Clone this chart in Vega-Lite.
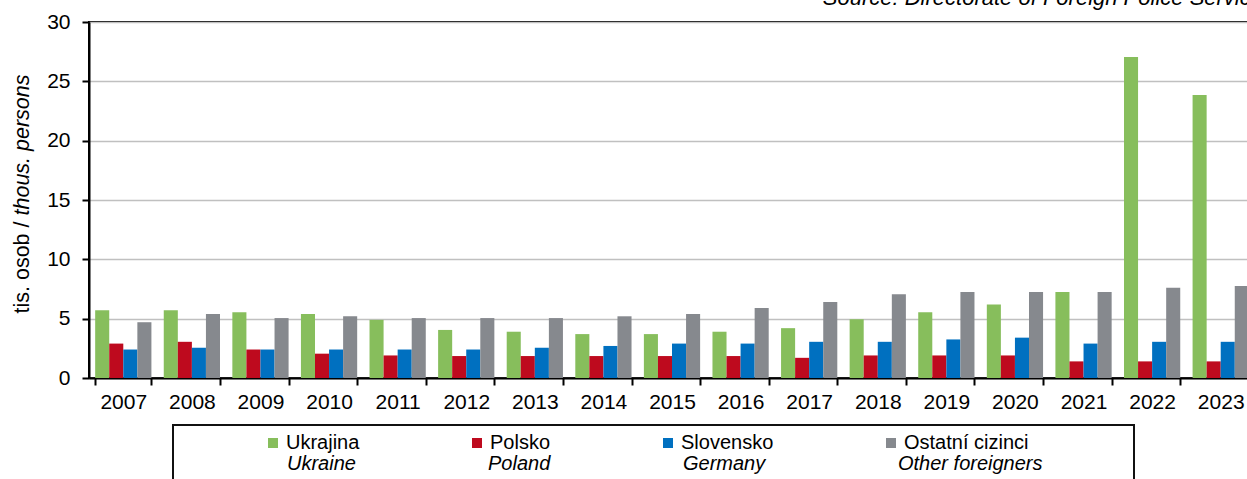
{
  "$schema": "https://vega.github.io/schema/vega-lite/v6.json",
  "autosize": {"type": "none"},
  "width": 1166,
  "height": 356,
  "padding": {"left": 89, "top": 22, "right": -8, "bottom": 101},
  "background": "white",
  "config": {
    "font": "Liberation Sans",
    "view": {"stroke": "black", "strokeWidth": 2},
    "axis": {"titleFontWeight": "normal", "labelColor": "black", "titleColor": "black"},
    "legend": {"strokeWidth": 2}
  },
  "title": {
    "text": "Source: Directorate of Foreign Police Service",
    "anchor": "end",
    "frame": "group",
    "fontStyle": "italic",
    "fontWeight": "normal",
    "fontSize": 22,
    "baseline": "alphabetic",
    "offset": -16,
    "dx": 8,
    "color": "black"
  },
  "data": {
    "values": [
      {"year": "2007", "cz": "Ukrajina", "en": "Ukraine", "v": 5.7},
      {"year": "2008", "cz": "Ukrajina", "en": "Ukraine", "v": 5.7},
      {"year": "2009", "cz": "Ukrajina", "en": "Ukraine", "v": 5.55},
      {"year": "2010", "cz": "Ukrajina", "en": "Ukraine", "v": 5.4},
      {"year": "2011", "cz": "Ukrajina", "en": "Ukraine", "v": 4.9},
      {"year": "2012", "cz": "Ukrajina", "en": "Ukraine", "v": 4.05},
      {"year": "2013", "cz": "Ukrajina", "en": "Ukraine", "v": 3.9},
      {"year": "2014", "cz": "Ukrajina", "en": "Ukraine", "v": 3.7},
      {"year": "2015", "cz": "Ukrajina", "en": "Ukraine", "v": 3.7},
      {"year": "2016", "cz": "Ukrajina", "en": "Ukraine", "v": 3.9},
      {"year": "2017", "cz": "Ukrajina", "en": "Ukraine", "v": 4.2},
      {"year": "2018", "cz": "Ukrajina", "en": "Ukraine", "v": 4.95},
      {"year": "2019", "cz": "Ukrajina", "en": "Ukraine", "v": 5.55},
      {"year": "2020", "cz": "Ukrajina", "en": "Ukraine", "v": 6.2},
      {"year": "2021", "cz": "Ukrajina", "en": "Ukraine", "v": 7.25},
      {"year": "2022", "cz": "Ukrajina", "en": "Ukraine", "v": 27.05},
      {"year": "2023", "cz": "Ukrajina", "en": "Ukraine", "v": 23.85},
      {"year": "2007", "cz": "Polsko", "en": "Poland", "v": 2.9},
      {"year": "2008", "cz": "Polsko", "en": "Poland", "v": 3.05},
      {"year": "2009", "cz": "Polsko", "en": "Poland", "v": 2.4},
      {"year": "2010", "cz": "Polsko", "en": "Poland", "v": 2.05},
      {"year": "2011", "cz": "Polsko", "en": "Poland", "v": 1.9},
      {"year": "2012", "cz": "Polsko", "en": "Poland", "v": 1.85},
      {"year": "2013", "cz": "Polsko", "en": "Poland", "v": 1.85},
      {"year": "2014", "cz": "Polsko", "en": "Poland", "v": 1.85},
      {"year": "2015", "cz": "Polsko", "en": "Poland", "v": 1.85},
      {"year": "2016", "cz": "Polsko", "en": "Poland", "v": 1.85},
      {"year": "2017", "cz": "Polsko", "en": "Poland", "v": 1.7},
      {"year": "2018", "cz": "Polsko", "en": "Poland", "v": 1.9},
      {"year": "2019", "cz": "Polsko", "en": "Poland", "v": 1.9},
      {"year": "2020", "cz": "Polsko", "en": "Poland", "v": 1.9},
      {"year": "2021", "cz": "Polsko", "en": "Poland", "v": 1.4},
      {"year": "2022", "cz": "Polsko", "en": "Poland", "v": 1.4},
      {"year": "2023", "cz": "Polsko", "en": "Poland", "v": 1.4},
      {"year": "2007", "cz": "Slovensko", "en": "Germany", "v": 2.4},
      {"year": "2008", "cz": "Slovensko", "en": "Germany", "v": 2.55},
      {"year": "2009", "cz": "Slovensko", "en": "Germany", "v": 2.4},
      {"year": "2010", "cz": "Slovensko", "en": "Germany", "v": 2.4},
      {"year": "2011", "cz": "Slovensko", "en": "Germany", "v": 2.4},
      {"year": "2012", "cz": "Slovensko", "en": "Germany", "v": 2.4},
      {"year": "2013", "cz": "Slovensko", "en": "Germany", "v": 2.55},
      {"year": "2014", "cz": "Slovensko", "en": "Germany", "v": 2.7},
      {"year": "2015", "cz": "Slovensko", "en": "Germany", "v": 2.9},
      {"year": "2016", "cz": "Slovensko", "en": "Germany", "v": 2.9},
      {"year": "2017", "cz": "Slovensko", "en": "Germany", "v": 3.05},
      {"year": "2018", "cz": "Slovensko", "en": "Germany", "v": 3.05},
      {"year": "2019", "cz": "Slovensko", "en": "Germany", "v": 3.25},
      {"year": "2020", "cz": "Slovensko", "en": "Germany", "v": 3.4},
      {"year": "2021", "cz": "Slovensko", "en": "Germany", "v": 2.9},
      {"year": "2022", "cz": "Slovensko", "en": "Germany", "v": 3.05},
      {"year": "2023", "cz": "Slovensko", "en": "Germany", "v": 3.05},
      {"year": "2007", "cz": "Ostatní cizinci", "en": "Other foreigners", "v": 4.7},
      {"year": "2008", "cz": "Ostatní cizinci", "en": "Other foreigners", "v": 5.4},
      {"year": "2009", "cz": "Ostatní cizinci", "en": "Other foreigners", "v": 5.05},
      {"year": "2010", "cz": "Ostatní cizinci", "en": "Other foreigners", "v": 5.2},
      {"year": "2011", "cz": "Ostatní cizinci", "en": "Other foreigners", "v": 5.05},
      {"year": "2012", "cz": "Ostatní cizinci", "en": "Other foreigners", "v": 5.05},
      {"year": "2013", "cz": "Ostatní cizinci", "en": "Other foreigners", "v": 5.05},
      {"year": "2014", "cz": "Ostatní cizinci", "en": "Other foreigners", "v": 5.2},
      {"year": "2015", "cz": "Ostatní cizinci", "en": "Other foreigners", "v": 5.4},
      {"year": "2016", "cz": "Ostatní cizinci", "en": "Other foreigners", "v": 5.9},
      {"year": "2017", "cz": "Ostatní cizinci", "en": "Other foreigners", "v": 6.4},
      {"year": "2018", "cz": "Ostatní cizinci", "en": "Other foreigners", "v": 7.05},
      {"year": "2019", "cz": "Ostatní cizinci", "en": "Other foreigners", "v": 7.25},
      {"year": "2020", "cz": "Ostatní cizinci", "en": "Other foreigners", "v": 7.25},
      {"year": "2021", "cz": "Ostatní cizinci", "en": "Other foreigners", "v": 7.25},
      {"year": "2022", "cz": "Ostatní cizinci", "en": "Other foreigners", "v": 7.6},
      {"year": "2023", "cz": "Ostatní cizinci", "en": "Other foreigners", "v": 7.75}
    ]
  },
  "encoding": {
    "x": {
      "field": "year",
      "type": "ordinal",
      "scale": {"paddingInner": 0.18, "paddingOuter": 0.09},
      "axis": {
        "title": null,
        "labelAngle": 0,
        "labelFontSize": 21,
        "labelPadding": 6,
        "tickSize": 7,
        "tickWidth": 2,
        "tickColor": "black",
        "tickBand": "extent",
        "domainColor": "black",
        "domainWidth": 2,
        "grid": false
      }
    },
    "xOffset": {"field": "cz", "type": "nominal", "sort": ["Ukrajina", "Polsko", "Slovensko", "Ostatní cizinci"]}
  },
  "layer": [
    {
      "mark": {"type": "bar"},
      "encoding": {
        "y": {
          "field": "v",
          "type": "quantitative",
          "scale": {"domain": [0, 30], "nice": false},
          "axis": {
            "values": [0, 5, 10, 15, 20, 25, 30],
            "title": "tis. osob / ",
            "titleFontSize": 21.5,
            "titleAngle": 270,
            "titleAlign": "left",
            "titleBaseline": "alphabetic",
            "titleX": -61,
            "titleY": 291,
            "labelFontSize": 21,
            "labelPadding": 12,
            "tickSize": 7,
            "tickWidth": 2,
            "tickColor": "black",
            "domainColor": "black",
            "domainWidth": 2,
            "grid": true,
            "gridColor": "#c0c0c0",
            "gridWidth": 1.5
          }
        },
        "color": {
          "field": "cz",
          "type": "nominal",
          "sort": ["Ukrajina", "Polsko", "Slovensko", "Ostatní cizinci"],
          "scale": {"domain": ["Ukrajina", "Polsko", "Slovensko", "Ostatní cizinci"], "range": ["#87be5c", "#be0a1e", "#0070c0", "#86898e"]},
          "legend": {
            "orient": "none",
            "legendX": 174,
            "legendY": 411,
            "direction": "horizontal",
            "columns": 4,
            "columnPadding": 107,
            "title": null,
            "padding": 0,
            "symbolType": "square",
            "symbolSize": 100,
            "symbolStrokeWidth": 0,
            "labelOffset": 3,
            "labelFontSize": 20,
            "labelColor": "black",
            "labelLimit": 400
          }
        }
      }
    },
    {
      "mark": {"type": "bar", "color": "transparent"},
      "encoding": {
        "y": {
          "field": "v",
          "type": "quantitative",
          "axis": {
            "orient": "left",
            "title": "thous. persons",
            "titleFontStyle": "italic",
            "titleFontSize": 21.5,
            "titleAngle": 270,
            "titleAlign": "left",
            "titleBaseline": "alphabetic",
            "titleX": -61,
            "titleY": 193,
            "labels": false,
            "ticks": false,
            "domain": false,
            "grid": false
          }
        },
        "opacity": {
          "field": "en",
          "type": "nominal",
          "sort": ["Ukraine", "Poland", "Germany", "Other foreigners"],
          "scale": {"domain": ["Ukraine", "Poland", "Germany", "Other foreigners"], "range": [1, 1, 1, 1]},
          "legend": {
            "orient": "none",
            "legendX": 84,
            "legendY": 403,
            "direction": "horizontal",
            "columns": 4,
            "columnPadding": 30,
            "title": "x",
            "titleOrient": "right",
            "titleFontSize": 10,
            "titleOpacity": 0,
            "titlePadding": 73,
            "padding": 12,
            "strokeColor": "#111111",
            "symbolType": "square",
            "symbolSize": 2916,
            "symbolStrokeWidth": 0,
            "symbolFillColor": "transparent",
            "labelOffset": 48,
            "labelFontSize": 20,
            "labelFontStyle": "italic",
            "labelColor": "black",
            "labelLimit": 400
          }
        }
      }
    }
  ],
  "resolve": {"axis": {"y": "independent"}}
}
